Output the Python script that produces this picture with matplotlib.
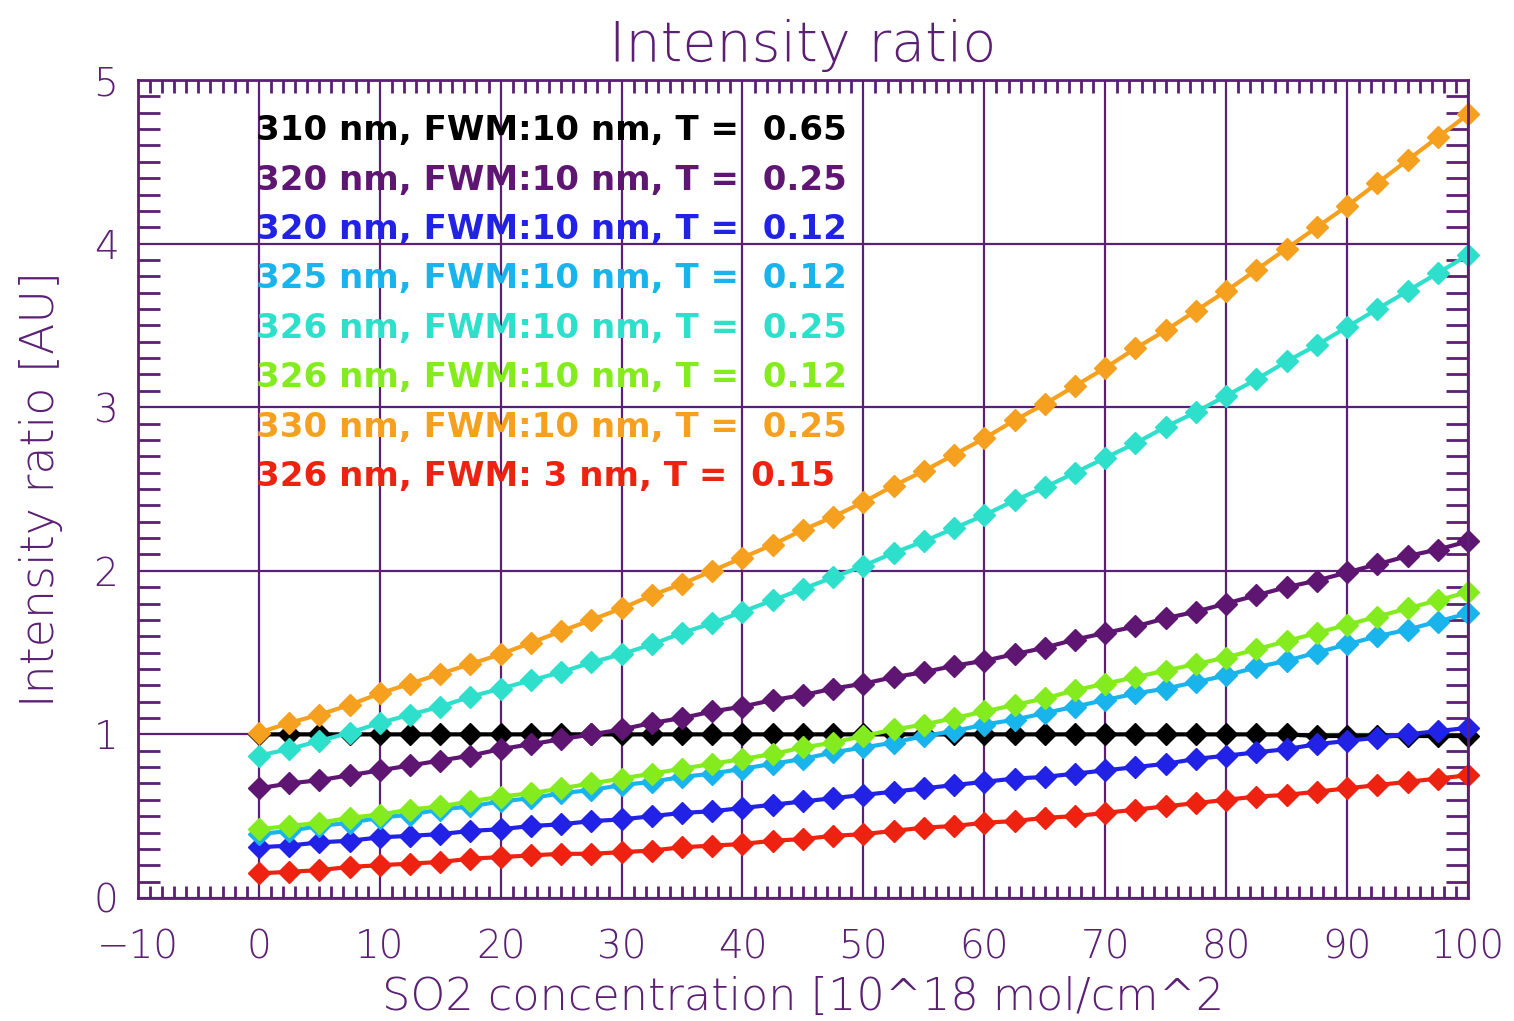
import numpy as np
import matplotlib
matplotlib.use("Agg")
import matplotlib.pyplot as plt
from matplotlib.ticker import MultipleLocator

# SO2 concentration [10^18 mol/cm^2], one point every 2.5
conc = np.arange(0, 100.1, 2.5)

r310_065 = [1.00, 1.00, 1.00, 1.00, 1.00, 1.00, 1.00, 1.00, 1.00, 1.00, 1.00,
            1.00, 1.00, 1.00, 1.00, 1.00, 1.00, 1.00, 1.00, 1.00, 1.00, 1.00,
            1.00, 1.00, 1.00, 1.00, 1.00, 1.00, 1.00, 1.00, 1.00, 1.00, 1.00,
            1.00, 1.00, 0.99, 0.99, 0.99, 0.99, 0.99, 0.99]
r320_025 = [0.67, 0.70, 0.72, 0.75, 0.78, 0.81, 0.84, 0.87, 0.91, 0.94, 0.97,
            1.00, 1.03, 1.07, 1.10, 1.14, 1.17, 1.21, 1.24, 1.28, 1.31, 1.35,
            1.38, 1.42, 1.45, 1.49, 1.53, 1.58, 1.62, 1.66, 1.71, 1.75, 1.80,
            1.85, 1.90, 1.94, 1.99, 2.04, 2.09, 2.13, 2.18]
r320_012 = [0.31, 0.32, 0.34, 0.35, 0.37, 0.38, 0.39, 0.41, 0.42, 0.44, 0.45,
            0.47, 0.48, 0.50, 0.52, 0.53, 0.55, 0.57, 0.59, 0.61, 0.63, 0.65,
            0.67, 0.69, 0.71, 0.73, 0.74, 0.76, 0.78, 0.80, 0.82, 0.85, 0.87,
            0.89, 0.91, 0.94, 0.96, 0.98, 1.00, 1.02, 1.04]
r325_012 = [0.39, 0.41, 0.44, 0.46, 0.49, 0.51, 0.54, 0.56, 0.59, 0.61, 0.64,
            0.66, 0.69, 0.71, 0.74, 0.76, 0.79, 0.82, 0.85, 0.89, 0.92, 0.95,
            0.99, 1.02, 1.06, 1.09, 1.13, 1.17, 1.21, 1.25, 1.28, 1.32, 1.36,
            1.41, 1.45, 1.50, 1.55, 1.60, 1.64, 1.69, 1.74]
r326_025 = [0.87, 0.91, 0.96, 1.01, 1.07, 1.12, 1.17, 1.23, 1.28, 1.33, 1.38,
            1.44, 1.49, 1.55, 1.62, 1.68, 1.75, 1.82, 1.89, 1.96, 2.03, 2.11,
            2.18, 2.26, 2.34, 2.43, 2.51, 2.60, 2.69, 2.78, 2.88, 2.97, 3.07,
            3.17, 3.28, 3.38, 3.49, 3.60, 3.71, 3.82, 3.93]
r326_012 = [0.42, 0.44, 0.46, 0.49, 0.51, 0.54, 0.56, 0.59, 0.62, 0.64, 0.67,
            0.70, 0.73, 0.76, 0.79, 0.82, 0.85, 0.88, 0.92, 0.95, 0.99, 1.03,
            1.06, 1.10, 1.14, 1.18, 1.22, 1.27, 1.31, 1.35, 1.39, 1.43, 1.47,
            1.52, 1.57, 1.62, 1.67, 1.72, 1.77, 1.82, 1.87]
r330_025 = [1.01, 1.07, 1.12, 1.18, 1.25, 1.31, 1.37, 1.43, 1.49, 1.56, 1.63,
            1.70, 1.77, 1.85, 1.92, 2.00, 2.08, 2.16, 2.25, 2.33, 2.42, 2.52,
            2.61, 2.71, 2.81, 2.92, 3.02, 3.13, 3.24, 3.36, 3.47, 3.59, 3.71,
            3.84, 3.97, 4.10, 4.23, 4.37, 4.51, 4.65, 4.79]
r326_3nm = [0.15, 0.16, 0.17, 0.19, 0.20, 0.21, 0.22, 0.24, 0.25, 0.26, 0.27,
            0.27, 0.28, 0.29, 0.31, 0.32, 0.33, 0.35, 0.36, 0.38, 0.39, 0.41,
            0.43, 0.44, 0.46, 0.47, 0.49, 0.50, 0.52, 0.54, 0.56, 0.58, 0.60,
            0.62, 0.63, 0.65, 0.67, 0.69, 0.71, 0.73, 0.75]

series = [r310_065, r320_025, r320_012, r325_012, r326_025, r326_012, r330_025, r326_3nm]
labels = ["310 nm, FWM:10 nm, T =  0.65",
          "320 nm, FWM:10 nm, T =  0.25",
          "320 nm, FWM:10 nm, T =  0.12",
          "325 nm, FWM:10 nm, T =  0.12",
          "326 nm, FWM:10 nm, T =  0.25",
          "326 nm, FWM:10 nm, T =  0.12",
          "330 nm, FWM:10 nm, T =  0.25",
          "326 nm, FWM: 3 nm, T =  0.15"]
colors = ["#000000", "#5e1672", "#2222e6", "#19b4ec",
          "#2ee0cc", "#84ec1e", "#f6a020", "#ee2210"]

purple = "#5b1f73"

fig = plt.figure(figsize=(15.14, 10.21), dpi=100)
ax = fig.add_axes([0.0911, 0.1205, 0.8785, 0.8011])

for ys, c in zip(series, colors):
    ax.plot(conc, ys, color=c, lw=3, marker="D", ms=11, mec=c, mfc=c, clip_on=False)

# legend written as coloured text, IDL style
for i, (lab, c) in enumerate(zip(labels, colors)):
    ax.text(-0.2, 4.69 - i * 0.302, lab, color=c, fontsize=24.5, fontweight="bold",
            ha="left", va="center")

ax.set_xlim(-10, 100)
ax.set_ylim(0, 5)
ax.xaxis.set_major_locator(MultipleLocator(10))
ax.xaxis.set_minor_locator(MultipleLocator(1))
ax.yaxis.set_major_locator(MultipleLocator(1))
ax.yaxis.set_minor_locator(MultipleLocator(0.1))
ax.grid(True, which="major", color=purple, lw=1.6)
ax.set_axisbelow(True)

ax.tick_params(which="both", direction="in", top=True, right=True, colors=purple,
               labelcolor=purple, labelsize=28)
ax.tick_params(axis="x", which="major", length=0, pad=22)
ax.tick_params(axis="y", which="major", length=0, pad=14)
ax.tick_params(axis="x", which="minor", length=9, width=2)
ax.tick_params(axis="y", which="minor", length=16, width=2)
for sp in ax.spines.values():
    sp.set_color(purple)
    sp.set_linewidth(2)
for t in ax.get_xticklabels() + ax.get_yticklabels():
    t.set_fontweight("light")

ax.set_title("Intensity ratio", color=purple, fontsize=40, fontweight="light", pad=14)
ax.set_xlabel("SO2 concentration [10^18 mol/cm^2", color=purple, fontsize=32,
              fontweight="light", labelpad=7)
ax.set_ylabel("Intensity ratio [AU]", color=purple, fontsize=33,
              fontweight="light", labelpad=22)

fig.savefig("out.png", dpi=100)
